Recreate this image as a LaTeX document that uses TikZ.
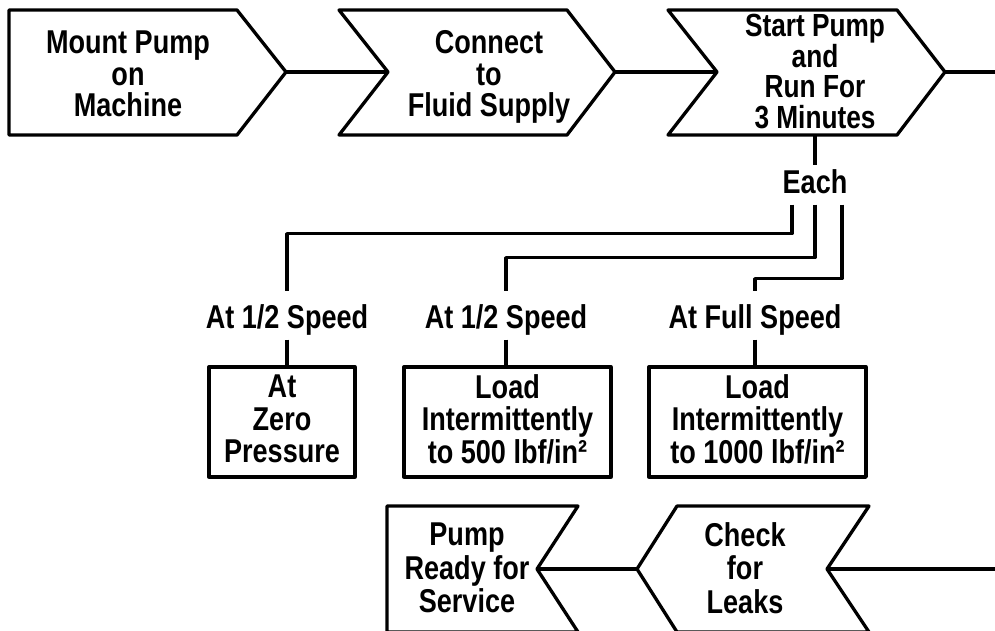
\documentclass[tikz,border=0pt]{standalone}
\usepackage{fontspec}
\newfontfamily\chartfont{Liberation Sans}[FakeStretch=0.82]

\tikzset{
  txt/.style={font=\chartfont\bfseries\fontsize{33}{32.5}\selectfont, align=center, inner sep=0pt},
  stepbox/.style={txt, draw, minimum width=#1, minimum height=110, text depth=6pt},
  speed/.style={txt, anchor=base, inner ysep=3pt, text height=32pt, text depth=7pt},
}

\begin{document}
\begin{tikzpicture}[x=1pt, y=-1pt, line width=3.3pt, line join=round]
    \useasboundingbox (0, 0) rectangle (995, 630);
    \clip (0, 0) rectangle (995, 630);
    % Top row of arrows:
    \draw (9, 10) -- (237, 10) -- (286, 72) coordinate (C1) -- (237, 135) -- (9, 135) -- cycle;
    \node[txt, font=\chartfont\bfseries\fontsize{33}{31.5}\selectfont] (N1) at (128, 74) {Mount Pump\\on\\Machine};
    \draw (339, 10) -- (567, 10) -- (615, 72) coordinate (C3) -- (567, 135) -- (339, 135) -- (388, 72) coordinate (C2) -- cycle;
    \node[txt, font=\chartfont\bfseries\fontsize{33}{31.5}\selectfont] (N2) at (489, 77) {Connect\\to\\Fluid Supply};
    \draw (668, 10) -- (897, 10) -- (945, 72) coordinate (C5) -- (897, 135) -- (815, 135) coordinate (C6) -- (668, 135) -- (717, 72) coordinate (C4) -- cycle;
    \node[txt, font=\chartfont\bfseries\fontsize{32}{30.5}\selectfont] (N3) at (815, 71.5) {Start Pump\\and\\Run For\\3 Minutes};
    \coordinate (E1) at (995, 72);
    \draw (C1) -- (C2);
    \draw (C3) -- (C4);
    \draw (C5) -- (E1);
    % Test runs:
    \node[txt, anchor=base, inner ysep=2pt, text depth=8pt] (N4) at (815, 193) {Each};
    \draw (C6) -- (N4.north);
    \node[speed] (N5) at (287, 328) {At 1/2 Speed};
    \node[speed] (N6) at (506, 328) {At 1/2 Speed};
    \node[speed] (N7) at (755, 328) {At Full Speed};
    \draw ([xshift=-23pt]N4.south) -- ++(0, 29) -| (N5.north);
    \draw (N4.south) -- ++(0, 53) -| (N6.north);
    \draw ([xshift=27pt]N4.south) -- ++(0, 74) -| (N7.north);
    \node[stepbox=146] (N8) at (282, 422) {At\\Zero\\Pressure};
    \node[stepbox=207] (N9) at (507.5, 422) {Load\\Intermittently\\to 500 lbf/in²};
    \node[stepbox=217] (N10) at (757.5, 422) {Load\\Intermittently\\to 1000 lbf/in²};
    \draw (N5.south) -- (N5.south |- N8.north);
    \draw (N6.south) -- (N6.south |- N9.north);
    \draw (N7.south) -- (N7.south |- N10.north);
    % Bottom row, right to left:
    \draw (387, 632) -- (387, 506) -- (578, 506) -- (537, 569) coordinate (C7) -- (578, 632) -- cycle;
    \node[txt, font=\chartfont\bfseries\fontsize{33}{33.5}\selectfont] (N11) at (467, 568) {Pump\\Ready for\\Service};
    \draw (637, 569) coordinate (C8) -- (677, 506) -- (869, 506) -- (827, 569) coordinate (C9) -- (869, 632) -- (677, 632) -- cycle;
    \node[txt, font=\chartfont\bfseries\fontsize{33}{33.5}\selectfont] (N12) at (745, 568) {Check\\for\\Leaks};
    \coordinate (E2) at (995, 569);
    \draw (C7) -- (C8);
    \draw (C9) -- (E2);
\end{tikzpicture}
\end{document}
